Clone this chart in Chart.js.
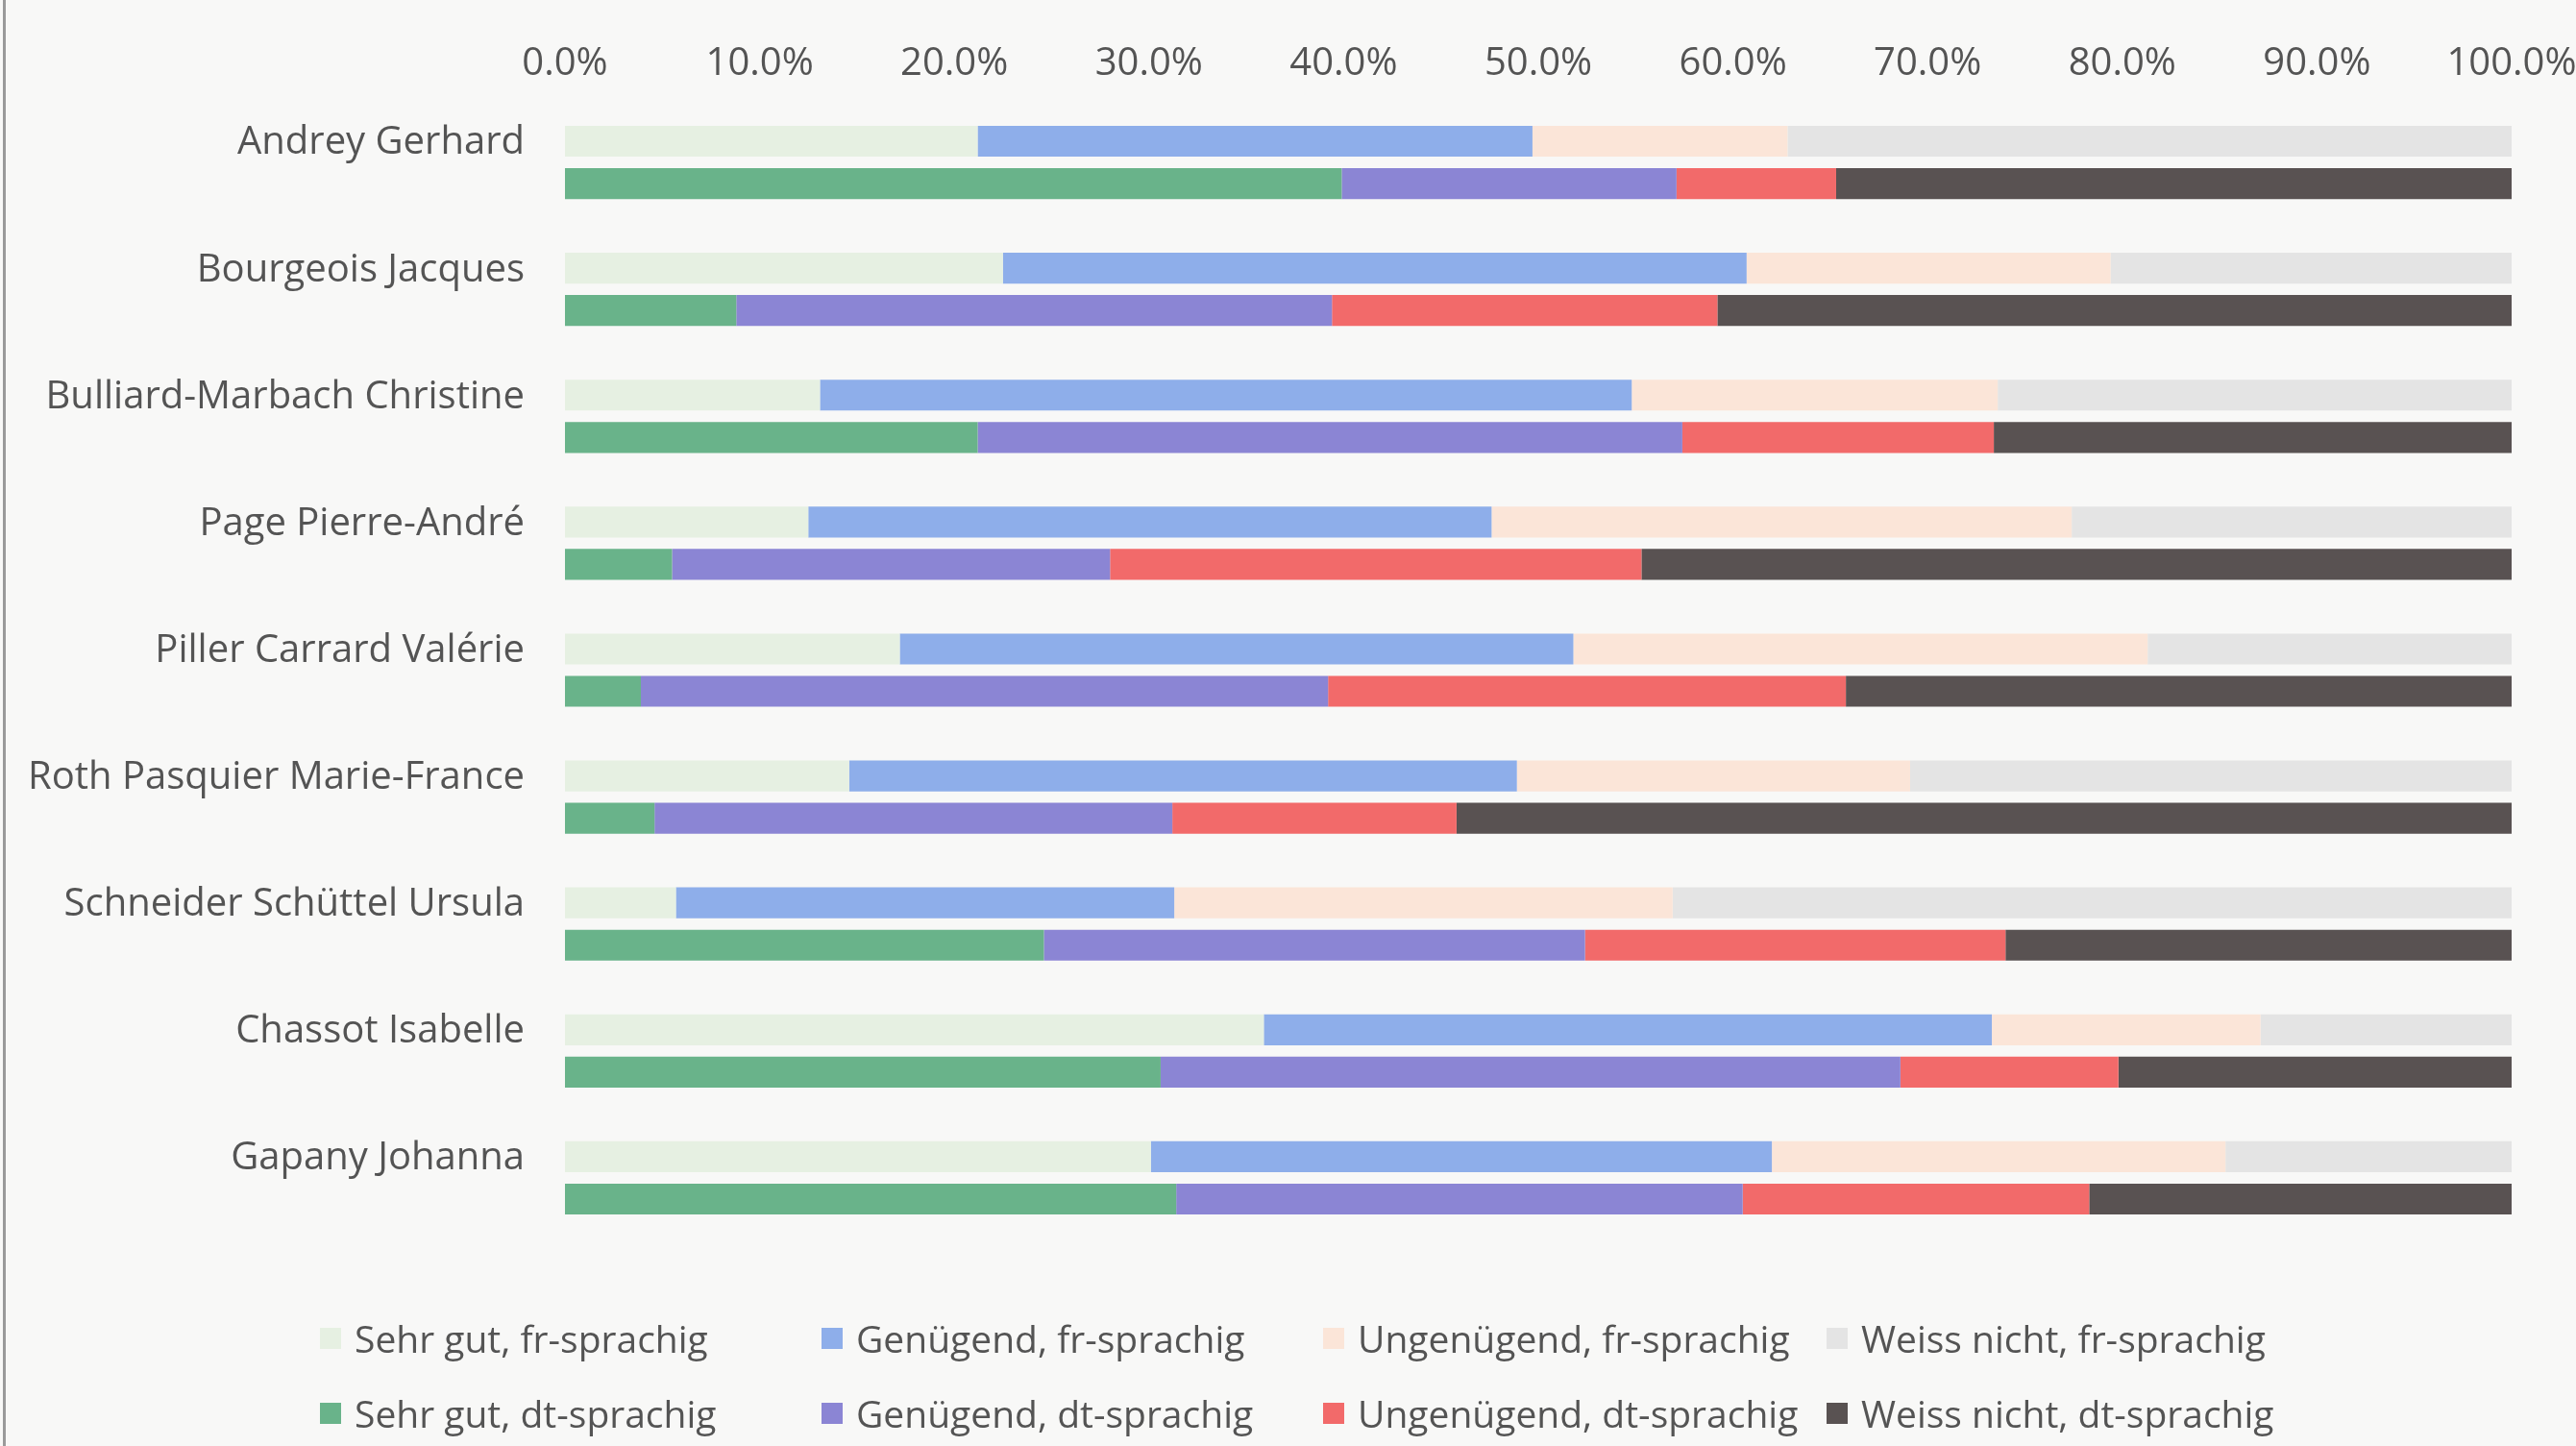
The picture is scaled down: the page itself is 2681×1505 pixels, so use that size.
<!DOCTYPE html>
<html>
<head>
<meta charset="utf-8">
<script src="https://cdn.jsdelivr.net/npm/chart.js@4.4.1/dist/chart.umd.min.js"></script>
<style>
  html, body { margin: 0; padding: 0; background: #f8f8f7; }
  #wrap { position: relative; width: 2681px; height: 1505px; }
  #frame { position: absolute; left: 3px; top: 0; width: 3px; height: 1505px; background: #9a9a9a; }
  #legend { position: absolute; left: 0; top: 1358px; width: 2681px; height: 140px;
            font-family: "Open Sans", sans-serif; font-size: 39px; color: #545454; }
  .item { position: absolute; display: flex; align-items: center; white-space: nowrap; }
  .box { width: 22px; height: 22px; margin-right: 14px; }
</style>
</head>
<body>
<div id="wrap">
  <canvas id="chart" width="2681" height="1505"></canvas>
  <div id="frame"></div>
  <div id="legend"></div>
</div>
<script>
const categories = [
  'Andrey Gerhard', 'Bourgeois Jacques', 'Bulliard-Marbach Christine', 'Page Pierre-André',
  'Piller Carrard Valérie', 'Roth Pasquier Marie-France', 'Schneider Schüttel Ursula',
  'Chassot Isabelle', 'Gapany Johanna'
];

// percentages
const sehrGutFr     = [21.2, 22.5, 13.1, 12.5, 17.2, 14.6,  5.7, 35.9, 30.1];
const genuegendFr   = [28.5, 38.2, 41.7, 35.1, 34.6, 34.3, 25.6, 37.4, 31.9];
const ungenuegendFr = [13.1, 18.7, 18.8, 29.8, 29.5, 20.2, 25.6, 13.8, 23.3];
const weissNichtFr  = [37.2, 20.6, 26.4, 22.6, 18.7, 30.9, 43.1, 12.9, 14.7];

const sehrGutDt     = [39.9,  8.8, 21.2,  5.5,  3.9,  4.6, 24.6, 30.6, 31.4];
const genuegendDt   = [17.2, 30.6, 36.2, 22.5, 35.3, 26.6, 27.8, 38.0, 29.1];
const ungenuegendDt = [ 8.2, 19.8, 16.0, 27.3, 26.6, 14.6, 21.6, 11.2, 17.8];
const weissNichtDt  = [34.7, 40.8, 26.6, 44.7, 34.2, 54.2, 26.0, 20.2, 21.7];

const tickMax = 100;
const tickStep = 10;

const series = [
  { label: 'Sehr gut, fr-sprachig',     data: sehrGutFr,     color: '#e6f0e2', stack: 'fr' },
  { label: 'Genügend, fr-sprachig',     data: genuegendFr,   color: '#8eaeea', stack: 'fr' },
  { label: 'Ungenügend, fr-sprachig',   data: ungenuegendFr, color: '#fbe5d8', stack: 'fr' },
  { label: 'Weiss nicht, fr-sprachig',  data: weissNichtFr,  color: '#e4e4e4', stack: 'fr' },
  { label: 'Sehr gut, dt-sprachig',     data: sehrGutDt,     color: '#69b38a', stack: 'dt' },
  { label: 'Genügend, dt-sprachig',     data: genuegendDt,   color: '#8b85d4', stack: 'dt' },
  { label: 'Ungenügend, dt-sprachig',   data: ungenuegendDt, color: '#f26a6a', stack: 'dt' },
  { label: 'Weiss nicht, dt-sprachig',  data: weissNichtDt,  color: '#595252', stack: 'dt' },
];

const FONT = '"Open Sans", sans-serif';
const TEXT = '#545454';

const chart = new Chart(document.getElementById('chart').getContext('2d'), {
  type: 'bar',
  data: {
    labels: categories,
    datasets: series.map((s) => ({
      label: s.label,
      data: s.data,
      backgroundColor: s.color,
      borderWidth: 0,
      stack: s.stack,
      categoryPercentage: 0.667,
      barPercentage: 0.73,
    })),
  },
  options: {
    indexAxis: 'y',
    responsive: false,
    animation: false,
    layout: { padding: { left: 0, right: 67, top: 0, bottom: 213 } },
    plugins: {
      legend: { display: false },
      tooltip: { enabled: false },
    },
    scales: {
      x: {
        position: 'top',
        stacked: true,
        min: 0,
        max: tickMax,
        grid: { display: false, drawTicks: false },
        border: { display: false },
        ticks: {
          stepSize: tickStep,
          padding: 12,
          color: TEXT,
          font: { family: FONT, size: 40 },
          callback: (v) => v.toFixed(1) + '%',
        },
        afterFit: (axis) => {
          axis.height = 103;
          // let the 100.0% label hang into the right margin
          axis.paddingLeft = 0;
          axis.paddingRight = 0;
        },
      },
      y: {
        stacked: true,
        grid: { display: false, drawTicks: false },
        border: { display: false },
        ticks: {
          padding: 42,
          labelOffset: -20,
          color: TEXT,
          font: { family: FONT, size: 40 },
        },
        afterFit: (axis) => { axis.width = 588; },
      },
    },
  },
});

// legend: two rows of four, fr on top, dt below
const legendEl = document.getElementById('legend');
const colX = [333, 855, 1377, 1901];
series.forEach((s, i) => {
  const item = document.createElement('div');
  item.className = 'item';
  item.style.left = colX[i % 4] + 'px';
  item.style.top = (i < 4 ? 8 : 86) + 'px';
  item.innerHTML = '<span class="box" style="background:' + s.color + '"></span>' + s.label;
  legendEl.appendChild(item);
});
</script>
</body>
</html>
